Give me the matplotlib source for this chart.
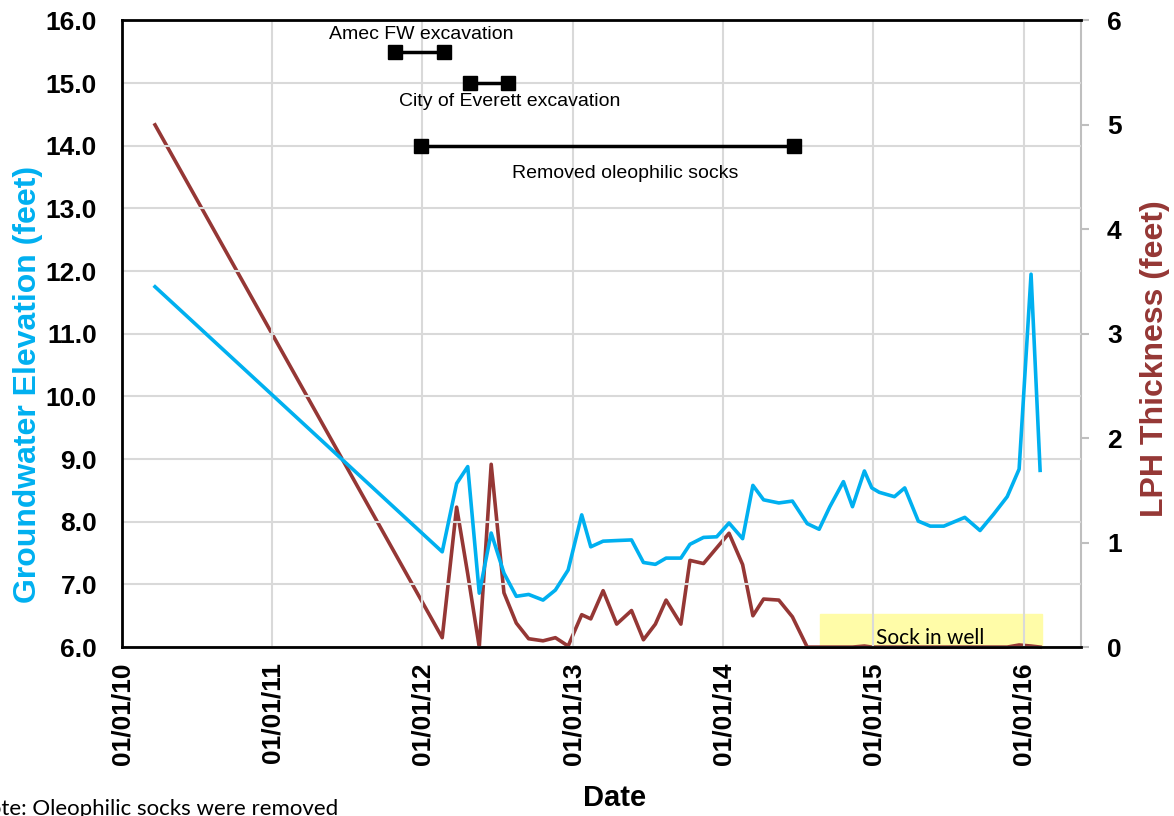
import matplotlib
matplotlib.use("Agg")
from matplotlib import pyplot as plt
from matplotlib.font_manager import FontProperties
import matplotlib.dates as mdates
import pandas as pd

# sample dates shared by both series
dates = ["2010-03-22", "2012-02-18", "2012-03-24", "2012-04-20", "2012-05-18",
         "2012-06-16", "2012-07-17", "2012-08-16", "2012-09-15", "2012-10-20",
         "2012-11-19", "2012-12-20", "2013-01-22", "2013-02-13", "2013-03-15",
         "2013-04-17", "2013-05-23", "2013-06-21", "2013-07-20", "2013-08-15",
         "2013-09-20", "2013-10-12", "2013-11-14", "2013-12-16", "2014-01-15",
         "2014-02-17", "2014-03-14", "2014-04-09", "2014-05-16", "2014-06-18",
         "2014-07-24", "2014-08-22", "2014-09-17", "2014-10-20", "2014-11-11",
         "2014-12-10", "2014-12-28", "2015-01-15", "2015-02-21", "2015-03-18",
         "2015-04-20", "2015-05-19", "2015-06-21", "2015-08-11", "2015-09-17",
         "2015-10-20", "2015-11-22", "2015-12-21", "2016-01-19", "2016-02-10"]

gw_elev = [11.75, 7.52, 8.61, 8.88, 6.86, 7.82, 7.18, 6.81, 6.84, 6.75,
           6.91, 7.23, 8.11, 7.60, 7.69, 7.70, 7.71, 7.35, 7.32, 7.42,
           7.42, 7.64, 7.75, 7.76, 7.98, 7.73, 8.58, 8.35, 8.30, 8.33,
           7.97, 7.88, 8.24, 8.64, 8.24, 8.81, 8.54, 8.47, 8.40, 8.54,
           8.01, 7.93, 7.93, 8.07, 7.86, 8.12, 8.40, 8.84, 11.95, 8.82]

lph = [5.00, 0.09, 1.34, 0.70, 0.00, 1.75, 0.52, 0.23, 0.08, 0.06,
       0.09, 0.01, 0.31, 0.27, 0.54, 0.22, 0.35, 0.07, 0.22, 0.45,
       0.22, 0.83, 0.80, 0.95, 1.09, 0.79, 0.30, 0.46, 0.45, 0.29,
       0.00, 0.00, 0.00, 0.00, 0.00, 0.01, 0.00, 0.00, 0.00, 0.00,
       0.00, 0.00, 0.00, 0.00, 0.00, 0.00, 0.00, 0.02, 0.01, 0.00]

# event bars: label, start, end, level on left axis
event_names = ["Amec FW excavation", "City of Everett excavation", "Removed oleophilic socks"]
event_start = ["2011-10-27", "2012-04-26", "2011-12-28"]
event_end = ["2012-02-22", "2012-07-28", "2014-06-23"]
event_level = [15.5, 15.0, 14.0]
# label anchor (date, left-axis value)
label_date = ["2011-12-28", "2012-08-01", "2013-05-08"]
label_level = [15.78, 14.71, 13.56]

sock_start, sock_end = "2014-08-25", "2016-02-15"

BLUE = "#00B0F0"
RED = "#953735"
GRID = "#D9D9D9"

d = pd.to_datetime(dates)

fig = plt.figure(figsize=(11.74, 8.16), dpi=100)
ax = fig.add_axes([0.104, 0.207, 0.817, 0.768])
ax2 = ax.twinx()

ax.set_zorder(2)
ax.patch.set_visible(False)

# sock in well box (right axis units)
ax2.axvspan(pd.Timestamp(sock_start), pd.Timestamp(sock_end), ymin=0, ymax=0.32 / 6,
            color="#FFFCA8", zorder=0)
ax2.text(pd.Timestamp("2015-05-18"), 0.09, "Sock in well", fontsize=15,
         family="Lato", ha="center", va="center", zorder=1)

ax2.plot(d, lph, color=RED, lw=2.6, zorder=2, clip_on=False)
ax.plot(d, gw_elev, color=BLUE, lw=2.6, zorder=3)

for s, e, lvl in zip(event_start, event_end, event_level):
    ax.plot(pd.to_datetime([s, e]), [lvl, lvl], color="black", lw=2.5,
            marker="s", markersize=10, zorder=4)
for name, ld, ll in zip(event_names, label_date, label_level):
    ax.text(pd.Timestamp(ld), ll, name, fontsize=14, family="Liberation Sans",
            ha="center", va="center")

ax.set_xlim(pd.Timestamp("2010-01-01"), pd.Timestamp("2016-05-20"))
ax.set_ylim(6, 16)
ax2.set_ylim(0, 6)

ax.xaxis.set_major_locator(mdates.YearLocator())
ax.xaxis.set_major_formatter(mdates.DateFormatter("%m/%d/%y"))
ax.set_yticks(range(6, 17))
ax.yaxis.set_major_formatter(plt.FuncFormatter(lambda v, p: f"{v:.1f}"))
ax2.set_yticks(range(0, 7))

ax.grid(True, color=GRID, lw=1.5)
ax.set_axisbelow(True)

tick_font = FontProperties(family="Liberation Sans", weight="bold", size=19)
for lbl in ax.get_yticklabels() + ax2.get_yticklabels():
    lbl.set_fontproperties(tick_font)
for lbl in ax.get_xticklabels():
    lbl.set_fontproperties(tick_font)
    lbl.set_rotation(90)

ax.tick_params(axis="y", length=0, pad=18)
ax.tick_params(axis="x", length=0, pad=11)
ax2.tick_params(axis="y", length=6, color="#BFBFBF", width=1.5, pad=12.5)

for s in ["left", "top", "bottom"]:
    ax.spines[s].set_color("black")
    ax.spines[s].set_linewidth(2)
ax.spines["right"].set_visible(False)
for s in ["left", "top", "bottom"]:
    ax2.spines[s].set_visible(False)
ax2.spines["right"].set_color("#BFBFBF")
ax2.spines["right"].set_linewidth(1.5)

ax.set_ylabel("Groundwater Elevation (feet)", color=BLUE, fontsize=23,
              family="Liberation Sans", weight="bold")
ax.yaxis.set_label_coords(-0.0826, 0.419)
ax2.set_ylabel("LPH Thickness (feet)", color=RED, fontsize=23,
               family="Liberation Sans", weight="bold")
ax2.yaxis.set_label_coords(1.0615, 0.461)
ax.set_xlabel("Date", fontsize=21, family="Liberation Sans", weight="bold")
ax.xaxis.set_label_coords(0.513, -0.218)

fig.text(-0.024, -0.004, "Note: Oleophilic socks were removed", fontsize=16,
         family="Lato", ha="left", va="bottom")

fig.savefig("out.png", dpi=100)
